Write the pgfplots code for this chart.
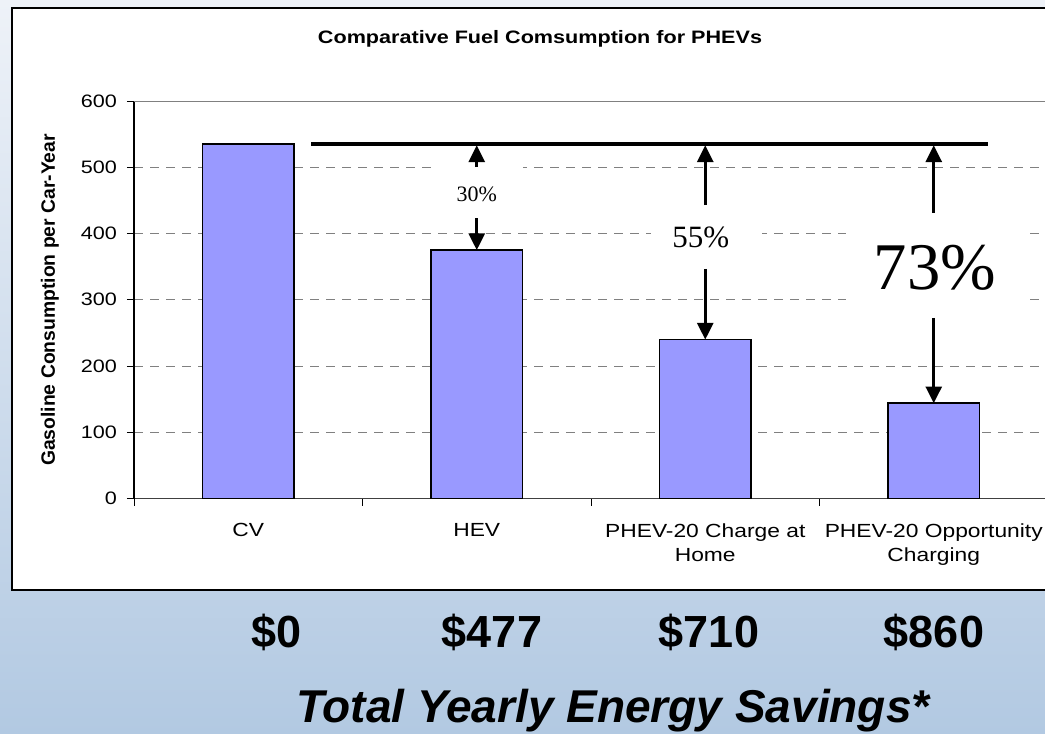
\documentclass[border=0pt]{standalone}
\usepackage{pgfplots}
\pgfplotsset{compat=1.18}
\usepackage{fontspec}
\setmainfont{Liberation Sans}
\newfontfamily\timesf{Liberation Serif}
\newfontfamily\arialw[FakeStretch=1.2]{Liberation Sans}
\usetikzlibrary{arrows.meta}
\definecolor{barfill}{HTML}{9999FF}
\definecolor{bgtop}{HTML}{EEF2F8}
\definecolor{bgbot}{HTML}{B2C9E2}
\definecolor{gridgray}{HTML}{808080}
\begin{document}
\begin{tikzpicture}[x=0.75pt,y=0.75pt]
\useasboundingbox (0,0) rectangle (1045,734);
\clip (0,0) rectangle (1045,734);
\shade[top color=bgtop, bottom color=bgbot] (0,0) rectangle (1045,734);
\fill[white] (12,144) rectangle (1070,726);
\draw[black, line width=0.9pt] (12,144) rectangle (1070,726);
\node[font=\arialw\bfseries\fontsize{13.5}{16}\selectfont] at (540,695) {Comparative Fuel Comsumption for PHEVs};
\node[rotate=90, font=\bfseries\fontsize{14.5}{17}\selectfont] at (50,434) {Gasoline Consumption per Car-Year};
\begin{axis}[
  at={(100.5pt,176.5pt)}, anchor=south west,
  scale only axis, width=685.5pt, height=298.3pt,
  xmin=-0.5, xmax=3.5, ymin=0, ymax=600,
  axis x line*=bottom, axis y line*=left,
  axis line style={-},
  x axis line style={color=black!75, line width=0.8pt},
  y axis line style={color=black, line width=0.8pt},
  tick align=outside, major tick length=5.25pt,
  tick style={color=black, line width=0.6pt},
  ytick={0,100,...,500},
  extra y ticks={600},
  extra y tick style={major grid style={solid, color=gridgray, line width=0.6pt}},
  ymajorgrids,
  major grid style={color=gridgray, line width=0.6pt, dash pattern=on 7pt off 5pt},
  xtick={-0.5,0.5,1.5,2.5,3.5}, xticklabels={},
  extra x ticks={0,1,2,3},
  extra x tick labels={CV,HEV,{PHEV-20 Charge at\\Home},{PHEV-20 Opportunity\\Charging}},
  extra x tick style={major tick length=0pt, xmajorgrids=false, tick style={draw=none}},
  x tick label style={font=\arialw\fontsize{14.25}{18.5}\selectfont, align=center, anchor=north, yshift=-15pt},
  y tick label style={font=\arialw\fontsize{13.5}{16}\selectfont, xshift=-4pt},
  /pgf/number format/assume math mode=true,
  clip=false,
]
\addplot[ybar, bar width=0.4, fill=barfill, draw=black, line width=1.1pt]
  coordinates {(0,535) (1,375) (2,240) (3,144)};
% white text boxes over grid
\fill[white] (axis cs:0.8085,423) rectangle (axis cs:1.2024,505);
\fill[white] (axis cs:1.7626,346.6) rectangle (axis cs:2.2484,444.6);
\fill[white] (axis cs:2.616,272.6) rectangle (axis cs:3.4125,431);
\draw[line width=3pt] (axis cs:0.275,535) -- (axis cs:3.237,535);
\begin{scope}[line width=2pt, -{Triangle[length=12.5pt,width=12pt]}]
\draw (axis cs:1,500) -- (axis cs:1,533);
\draw (axis cs:1,423) -- (axis cs:1,375);
\draw (axis cs:2,443) -- (axis cs:2,533);
\draw (axis cs:2,346.6) -- (axis cs:2,240);
\draw (axis cs:3,431) -- (axis cs:3,533);
\draw (axis cs:3,272.6) -- (axis cs:3,144);
\end{scope}
\node[font=\timesf\fontsize{16.5}{18}\selectfont] at (axis cs:1,459.6) {30\%};
\node[font=\timesf\fontsize{23.25}{26}\selectfont] at (axis cs:1.98,394.5) {55\%};
\node[font=\timesf\fontsize{50}{56}\selectfont] at (axis cs:3.005,348) {73\%};
\end{axis}
\node[anchor=base, font=\bfseries\fontsize{33.75}{40}\selectfont] at (277,86) {\$0};
\node[anchor=base, font=\bfseries\fontsize{33.75}{40}\selectfont] at (492,86) {\$477};
\node[anchor=base, font=\bfseries\fontsize{33.75}{40}\selectfont] at (709,86) {\$710};
\node[anchor=base, font=\bfseries\fontsize{33.75}{40}\selectfont] at (934,86) {\$860};
\node[anchor=base, font=\bfseries\itshape\fontsize{34.5}{40}\selectfont] at (613,11) {Total Yearly Energy Savings*};
\end{tikzpicture}
\end{document}
